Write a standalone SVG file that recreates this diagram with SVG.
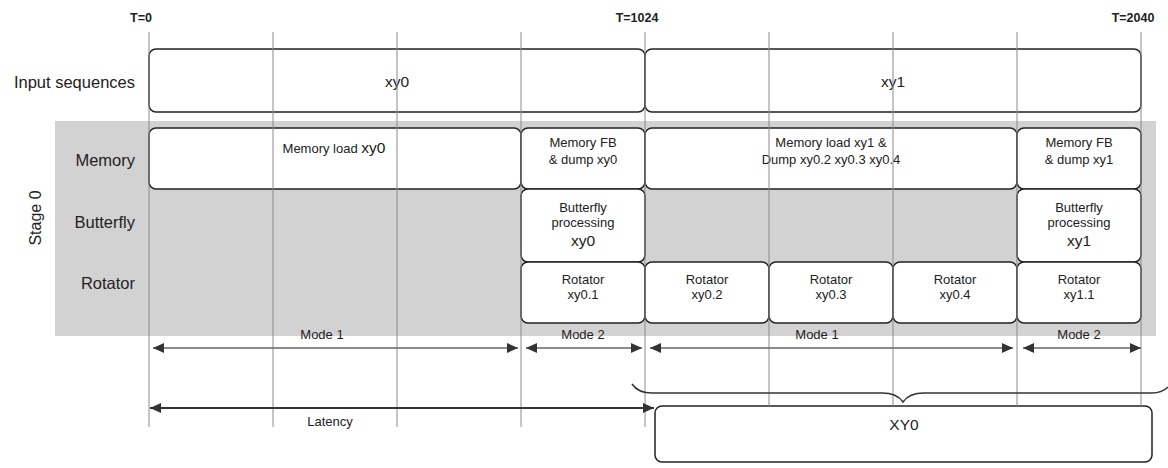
<svg xmlns="http://www.w3.org/2000/svg" width="1168" height="468" viewBox="0 0 1168 468">
<defs>
<style>
text{font-family:"Liberation Sans",Arial,sans-serif;fill:#222;text-anchor:middle}
.t{font-size:12.5px;font-weight:bold}
.lbl{font-size:16.5px;text-anchor:end}
.bx{fill:#fff;stroke:#222;stroke-width:1.5}
.s{font-size:13px}
.m{font-size:15.5px}
.grid{stroke:#8a8a8a;stroke-width:1}
.marr{stroke:#666;stroke-width:1.3;fill:none;marker-start:url(#ah);marker-end:url(#ah)}
.lat{stroke:#333;stroke-width:2.2;fill:none;marker-start:url(#ah);marker-end:url(#ah)}
</style>
<marker id="ah" markerUnits="userSpaceOnUse" markerWidth="12" markerHeight="10" refX="11" refY="5" orient="auto-start-reverse" viewBox="0 0 12 10">
<path d="M0,0 L11,5 L0,10 Z" fill="#333"/>
</marker>
</defs>
<rect width="1168" height="468" fill="#fff"/>
<rect x="55" y="121" width="1101" height="215" fill="#d2d2d2"/>

<g id="time-labels">
<text class="t" x="141" y="22">T=0</text>
<text class="t" x="637" y="22">T=1024</text>
<text class="t" x="1133" y="22">T=2040</text>
</g>

<g id="row-labels">
<text class="lbl" x="135" y="88">Input sequences</text>
<text class="lbl" x="135" y="166">Memory</text>
<text class="lbl" x="135" y="228">Butterfly</text>
<text class="lbl" x="135" y="289">Rotator</text>
<text style="font-size:16px" transform="translate(41 218) rotate(-90)">Stage 0</text>
</g>

<g id="input-xy0"><rect class="bx" x="149" y="49" width="496" height="63" rx="7"/><text class="m" x="397" y="87">xy0</text></g>
<g id="input-xy1"><rect class="bx" x="645" y="49" width="496" height="63" rx="7"/><text class="m" x="893" y="87">xy1</text></g>

<g id="mem-load-xy0"><rect class="bx" x="149" y="128" width="372" height="61" rx="7"/><text class="s" x="334" y="153">Memory load <tspan style="font-size:15.5px">xy0</tspan></text></g>
<g id="mem-fb-xy0"><rect class="bx" x="521" y="128" width="124" height="61" rx="7"/><text class="s" x="583" y="147">Memory FB</text><text class="s" x="583" y="164">&amp; dump xy0</text></g>
<g id="mem-load-xy1"><rect class="bx" x="645" y="128" width="372" height="61" rx="7"/><text class="s" x="831" y="147">Memory load xy1 &amp;</text><text class="s" x="831" y="164">Dump xy0.2 xy0.3 xy0.4</text></g>
<g id="mem-fb-xy1"><rect class="bx" x="1017" y="128" width="124" height="61" rx="7"/><text class="s" x="1079" y="147">Memory FB</text><text class="s" x="1079" y="164">&amp; dump xy1</text></g>

<g id="bfly-xy0"><rect class="bx" x="521" y="189" width="124" height="73" rx="7"/><text class="s" x="583" y="212">Butterfly</text><text class="s" x="583" y="227">processing</text><text class="m" x="583" y="246">xy0</text></g>
<g id="bfly-xy1"><rect class="bx" x="1017" y="189" width="124" height="73" rx="7"/><text class="s" x="1079" y="212">Butterfly</text><text class="s" x="1079" y="227">processing</text><text class="m" x="1079" y="246">xy1</text></g>

<g id="rot-xy0-1"><rect class="bx" x="521" y="262" width="124" height="61" rx="7"/><text class="s" x="583" y="284">Rotator</text><text class="s" x="583" y="299">xy0.1</text></g>
<g id="rot-xy0-2"><rect class="bx" x="645" y="262" width="124" height="61" rx="7"/><text class="s" x="707" y="284">Rotator</text><text class="s" x="707" y="299">xy0.2</text></g>
<g id="rot-xy0-3"><rect class="bx" x="769" y="262" width="124" height="61" rx="7"/><text class="s" x="831" y="284">Rotator</text><text class="s" x="831" y="299">xy0.3</text></g>
<g id="rot-xy0-4"><rect class="bx" x="893" y="262" width="124" height="61" rx="7"/><text class="s" x="955" y="284">Rotator</text><text class="s" x="955" y="299">xy0.4</text></g>
<g id="rot-xy1-1"><rect class="bx" x="1017" y="262" width="124" height="61" rx="7"/><text class="s" x="1079" y="284">Rotator</text><text class="s" x="1079" y="299">xy1.1</text></g>

<g id="xy0-out"><rect class="bx" x="655" y="406" width="497" height="56" rx="7"/><text class="m" x="904" y="430">XY0</text></g>

<g id="grid">
<path class="grid" d="M149,32V427M273,32V427M397,32V427M521,32V427M645,32V427M769,32V406M893,32V406M1017,32V406M1141,32V406"/>
</g>

<g id="mode-labels">
<text class="s" x="322" y="339">Mode 1</text>
<text class="s" x="583" y="339">Mode 2</text>
<text class="s" x="817" y="339">Mode 1</text>
<text class="s" x="1079" y="339">Mode 2</text>
<text class="s" x="330" y="426">Latency</text>
</g>

<g id="connectors">
<line class="marr" x1="153" y1="348" x2="518" y2="348"/>
<line class="marr" x1="526" y1="348" x2="642" y2="348"/>
<line class="marr" x1="650" y1="348" x2="1013" y2="348"/>
<line class="marr" x1="1023" y1="348" x2="1141" y2="348"/>
<line class="lat" x1="150" y1="408" x2="654" y2="408"/>
<path d="M632,384 Q638,393 652,393 L882,393 Q897,393 903,402 Q909,393 924,393 L1152,393 Q1162,393 1168,387" fill="none" stroke="#333" stroke-width="1.5"/>
</g>
</svg>
